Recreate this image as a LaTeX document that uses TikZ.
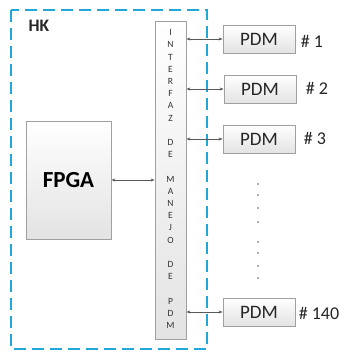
\documentclass[tikz,border=0pt]{standalone}
\usepackage{fontspec}
\setmainfont{Carlito}
\usetikzlibrary{arrows.meta}
\definecolor{hkblue}{HTML}{1FA8D8}
\definecolor{boxedge}{HTML}{A0A0A0}
\definecolor{arr}{HTML}{595959}
\definecolor{txt}{HTML}{262626}
\tikzset{
  x=1pt,y=1pt,
  blk/.style={draw=boxedge, line width=0.8pt, top color=white, bottom color=black!11, inner sep=0pt},
  pdmbox/.style={blk, minimum width=72pt, minimum height=28pt, font=\fontsize{19}{21}\selectfont, text=txt},
  conn/.style={draw=arr, line width=0.9pt, {Stealth[length=4pt,width=3pt]}-{Stealth[length=4pt,width=3pt]}},
  numlbl/.style={font=\fontsize{18}{20}\selectfont, text=txt, inner sep=0pt},
  dotmark/.style={circle, fill=arr, inner sep=0pt, minimum size=1.6pt}
}
\begin{document}
\begin{tikzpicture}
\useasboundingbox (0,0) rectangle (338,351);
% HK dashed frame
\draw[hkblue, line width=2pt, dash pattern=on 12pt off 6pt] (11,341) rectangle (207,2);
\node[font=\bfseries\fontsize{17.5}{19}\selectfont, text=txt, inner sep=0pt] (hk) at (39,325) {HK};
% FPGA
\node[blk, minimum width=85pt, minimum height=118pt, font=\bfseries\fontsize{23}{25}\selectfont, text=black] (fpga) at (68.5,171) {FPGA};
% Interface
\node[blk, minimum width=31pt, minimum height=318pt] (iface) at (170.5,171) {};
\node[font=\fontsize{9.5}{12.2}\selectfont, text=black!80, align=center, inner sep=0pt] (ifacetxt) at (170.5,172)
 {I\\N\\T\\E\\R\\F\\A\\Z\\\mbox{}\\D\\E\\\mbox{}\\M\\A\\N\\E\\J\\O\\\mbox{}\\D\\E\\\mbox{}\\P\\D\\M};
% PDM boxes
\node[pdmbox] (p1) at (259,312) {PDM};
\node[pdmbox] (p2) at (260,262) {PDM};
\node[pdmbox] (p3) at (259,212) {PDM};
\node[pdmbox] (p140) at (259,39) {PDM};
% labels
\node[numlbl] (l1) at (312,310) {\# 1};
\node[numlbl] (l2) at (317,263) {\# 2};
\node[numlbl] (l3) at (315,213) {\# 3};
\node[numlbl] (l140) at (319,38) {\# 140};
% connectors
\draw[conn] (fpga.east) -- (fpga.east -| iface.west);
\draw[conn] (iface.east |- p1.west) -- (p1.west);
\draw[conn] (iface.east |- p2.west) -- (p2.west);
\draw[conn] (iface.east |- p3.west) -- (p3.west);
\draw[conn] (iface.east |- p140.west) -- (p140.west);
% dots
\foreach \yy/\nm in {184/a,195/b,208/c,222/d,242/e,253/f,266/g,278/h}
  \node[dotmark] (dot\nm) at (258,351-\yy) {};
\end{tikzpicture}
\end{document}
